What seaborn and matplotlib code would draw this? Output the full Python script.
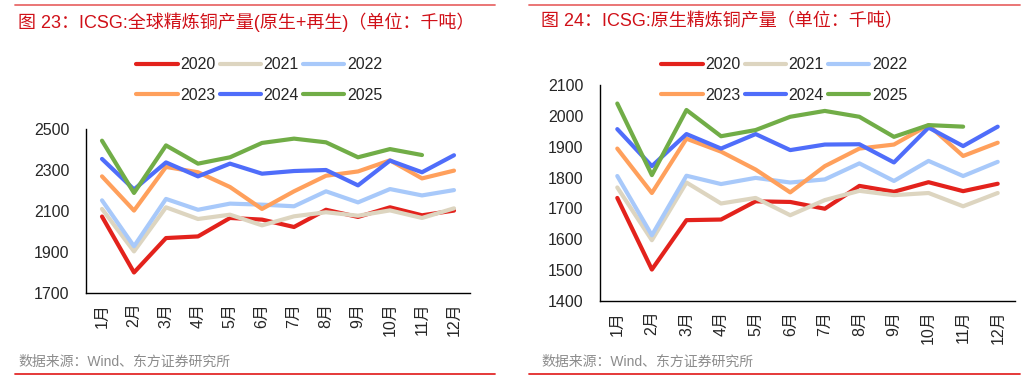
import numpy as np
import pandas as pd
import matplotlib
matplotlib.use("Agg")
import matplotlib.pyplot as plt
from matplotlib.lines import Line2D
import seaborn as sns

months = ["1月", "2月", "3月", "4月", "5月", "6月", "7月", "8月", "9月", "10月", "11月", "12月"]
years = ["2020", "2021", "2022", "2023", "2024", "2025"]
colors = ["#e3221c", "#ddd5c0", "#a8c9fa", "#ffa05c", "#4f6dfa", "#71ad47"]

# 全球精炼铜产量(原生+再生)
total_2020 = [2073, 1800, 1968, 1976, 2066, 2058, 2022, 2106, 2071, 2118, 2079, 2102]
total_2021 = [2110, 1903, 2118, 2061, 2082, 2030, 2074, 2094, 2077, 2103, 2066, 2113]
total_2022 = [2152, 1928, 2159, 2106, 2136, 2131, 2123, 2196, 2142, 2207, 2176, 2202]
total_2023 = [2269, 2102, 2315, 2289, 2217, 2110, 2196, 2272, 2293, 2347, 2259, 2297]
total_2024 = [2354, 2205, 2337, 2269, 2331, 2282, 2295, 2300, 2225, 2346, 2289, 2372]
total_2025 = [2443, 2188, 2420, 2331, 2362, 2432, 2453, 2435, 2362, 2402, 2373]

# 原生精炼铜产量
primary_2020 = [1734, 1502, 1662, 1664, 1723, 1721, 1699, 1773, 1754, 1785, 1756, 1780]
primary_2021 = [1768, 1597, 1784, 1716, 1734, 1678, 1727, 1757, 1743, 1750, 1707, 1750]
primary_2022 = [1805, 1613, 1806, 1779, 1799, 1784, 1794, 1846, 1789, 1854, 1805, 1851]
primary_2023 = [1894, 1750, 1926, 1884, 1826, 1752, 1837, 1894, 1907, 1970, 1870, 1913]
primary_2024 = [1957, 1837, 1941, 1894, 1941, 1889, 1907, 1908, 1849, 1962, 1902, 1965]
primary_2025 = [2040, 1808, 2019, 1934, 1954, 1997, 2016, 1997, 1932, 1970, 1965]

titles = ["图 23：ICSG:全球精炼铜产量(原生+再生)（单位：千吨）",
          "图 24：ICSG:原生精炼铜产量（单位：千吨）"]
source = "数据来源：Wind、东方证券研究所"


def to_long(series):
    rows = []
    for y, vals in zip(years, series):
        for i, v in enumerate(vals):
            rows.append({"year": y, "m": i, "value": v})
    return pd.DataFrame(rows)


sns.set_style("white")
plt.rcParams["font.family"] = ["Liberation Sans", "Noto Sans CJK SC"]

fig = plt.figure(figsize=(10.32, 3.8), dpi=100)
W, H = 1032, 380


def px_axes(x0, x1, y0, y1):
    return fig.add_axes([x0 / W, 1 - y1 / H, (x1 - x0) / W, (y1 - y0) / H])


panels = [
    dict(data=[total_2020, total_2021, total_2022, total_2023, total_2024, total_2025],
         box=(86, 470, 129, 293), ylim=(1700, 2500), yticks=[1700, 1900, 2100, 2300, 2500],
         xoff=0, line=(15, 495), leg_x=133),
    dict(data=[primary_2020, primary_2021, primary_2022, primary_2023, primary_2024, primary_2025],
         box=(600, 1015, 85, 301), ylim=(1400, 2100), yticks=list(range(1400, 2101, 100)),
         xoff=523, line=(529, 1020), leg_x=658),
]

for k, p in enumerate(panels):
    ax = px_axes(*p["box"])
    df = to_long(p["data"])
    sns.lineplot(data=df, x="m", y="value", hue="year", palette=colors,
                 linewidth=3, ax=ax, legend=False)
    ax.set_xlim(-0.5, 11.5)
    ax.set_ylim(*p["ylim"])
    ax.set_yticks(p["yticks"])
    ax.set_xticks(range(12))
    ax.set_xticklabels(months, rotation=90, fontsize=11.5)
    ax.set_xticks(np.arange(-0.5, 12, 1), minor=True)
    ax.tick_params(axis="x", which="major", length=0, pad=7)
    ax.tick_params(axis="x", which="minor", length=4, width=1, direction="out", color="black")
    ax.tick_params(axis="y", length=4, width=1, direction="in", pad=12, labelsize=11.5, color="black")
    ax.set_xlabel("")
    ax.set_ylabel("")
    for s in ["top", "right"]:
        ax.spines[s].set_visible(False)
    for s in ["left", "bottom"]:
        ax.spines[s].set_color("black")
        ax.spines[s].set_linewidth(1)

    handles = [Line2D([], [], color=c, lw=3, solid_capstyle="round") for c in colors]
    # legend: two rows of three
    order = [0, 3, 1, 4, 2, 5]
    fig.legend([handles[i] for i in order], [years[i] for i in order], ncol=3,
               loc="upper left", bbox_to_anchor=((p["leg_x"] - 11) / W, 1 - 43 / H),
               frameon=False, fontsize=11.5, handlelength=2.6, handletextpad=0.15,
               columnspacing=0.25, labelspacing=0.95)

    x0, x1 = p["line"]
    fig.add_artist(Line2D([x0 / W, x1 / W], [1 - 5 / H, 1 - 5 / H], color="#e86a6a", lw=1.3))
    fig.add_artist(Line2D([x0 / W, x1 / W], [1 - 374 / H, 1 - 374 / H], color="#e32a2a", lw=1.3))
    fig.text((18 + p["xoff"]) / W, 1 - 22 / H, titles[k], color="#d01018", fontsize=13,
             va="center", ha="left")
    fig.text((18 + p["xoff"]) / W, 1 - 362 / H, source, color="#8c8c8c", fontsize=10,
             va="center", ha="left")

fig.savefig("out.png", dpi=100)
